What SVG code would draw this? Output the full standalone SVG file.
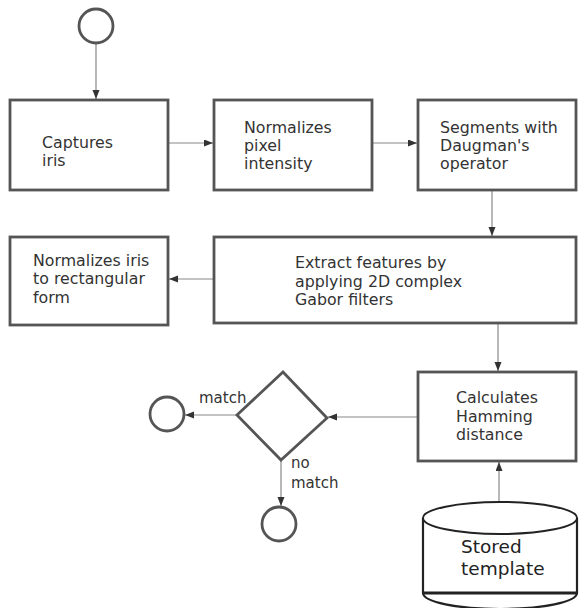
<svg xmlns="http://www.w3.org/2000/svg" width="580" height="608" viewBox="0 0 580 608">
<style>
.box{fill:#fff;stroke:#555;stroke-width:2.8}
.term{fill:#fff;stroke:#555;stroke-width:2.8}
.t{font-family:"DejaVu Sans",Verdana,sans-serif;font-size:15.8px;fill:#333}
.lbl{font-family:"DejaVu Sans",Verdana,sans-serif;font-size:15px;fill:#333}
.big{font-family:"DejaVu Sans",Verdana,sans-serif;font-size:18.5px;fill:#222}
.c{fill:none;stroke:#888;stroke-width:1.2}
</style>
<defs>
<marker id="ah" markerWidth="9" markerHeight="8" refX="9" refY="3.5" orient="auto" markerUnits="userSpaceOnUse">
<path d="M0,0 L9,3.5 L0,7 Z" fill="#333"/>
</marker>
</defs>
<g id="connectors">
<path class="c" d="M96,43 V99" marker-end="url(#ah)"/>
<path class="c" d="M168,143 H213" marker-end="url(#ah)"/>
<path class="c" d="M372,143 H417" marker-end="url(#ah)"/>
<path class="c" d="M492,190 V236" marker-end="url(#ah)"/>
<path class="c" d="M214,279 H169" marker-end="url(#ah)"/>
<path class="c" d="M498,323 V371" marker-end="url(#ah)"/>
<path class="c" d="M499,502 V462" marker-end="url(#ah)"/>
<path class="c" d="M418,417 H328" marker-end="url(#ah)"/>
<path class="c" d="M237,415 H185" marker-end="url(#ah)"/>
<path class="c" d="M281,460 V506" marker-end="url(#ah)"/>
<text class="lbl" x="199" y="403">match</text>
<text class="lbl" x="291" y="468">no</text>
<text class="lbl" x="291" y="488">match</text>
</g>
<g id="start"><circle class="term" cx="96" cy="26" r="17"/></g>
<g id="capture"><rect class="box" x="10" y="100" width="158" height="90"/>
<text class="t" x="42" y="148">Captures</text><text class="t" x="42" y="166">iris</text></g>
<g id="normpix"><rect class="box" x="214" y="100" width="158" height="90"/>
<text class="t" x="244" y="133">Normalizes</text><text class="t" x="244" y="151">pixel</text><text class="t" x="244" y="169">intensity</text></g>
<g id="segment"><rect class="box" x="418" y="100" width="158" height="90"/>
<text class="t" x="440" y="133">Segments with</text><text class="t" x="440" y="151">Daugman's</text><text class="t" x="440" y="169">operator</text></g>
<g id="extract"><rect class="box" x="214" y="237" width="362" height="86"/>
<text class="t" x="295" y="268">Extract features by</text><text class="t" x="295" y="287">applying 2D complex</text><text class="t" x="295" y="305">Gabor filters</text></g>
<g id="normiris"><rect class="box" x="10" y="237" width="158" height="88"/>
<text class="t" x="33" y="266">Normalizes iris</text><text class="t" x="33" y="284">to rectangular</text><text class="t" x="33" y="303">form</text></g>
<g id="hamming"><rect class="box" x="418" y="372" width="158" height="89"/>
<text class="t" x="456" y="403">Calculates</text><text class="t" x="456" y="422">Hamming</text><text class="t" x="456" y="440">distance</text></g>
<g id="decision"><path class="box" d="M283,372 L327,418 L281,460 L237,415 Z"/></g>
<g id="endmatch"><circle class="term" cx="167" cy="414" r="17"/></g>
<g id="endnomatch"><circle class="term" cx="279" cy="524" r="17"/></g>
<g id="stored">
<path d="M423,518 V593 A77,16 0 0 0 577,593 V518" fill="#fff" stroke="#222" stroke-width="2.2"/>
<line x1="423" y1="593" x2="577" y2="593" stroke="#222" stroke-width="3"/>
<ellipse cx="500" cy="518" rx="77" ry="16" fill="#fff" stroke="#222" stroke-width="2"/>
<text class="big" x="461" y="553">Stored</text><text class="big" x="461" y="575">template</text>
</g>
</svg>
